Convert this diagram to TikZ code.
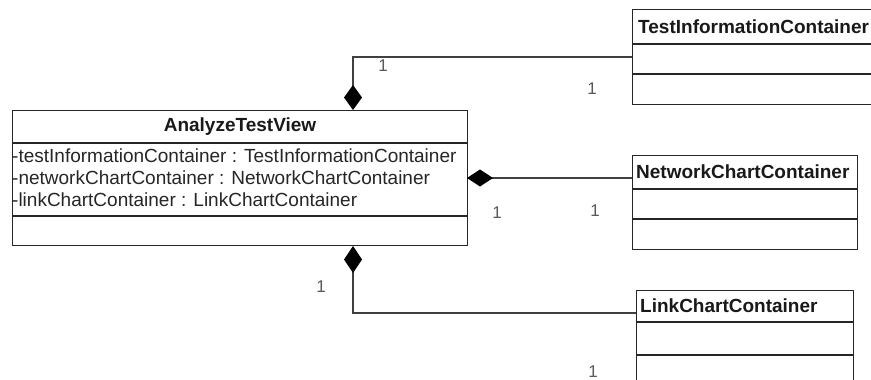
\documentclass[tikz,border=0pt]{standalone}
\usepackage{fontspec}
\setmainfont{Liberation Sans}
\usetikzlibrary{arrows.meta}
\begin{document}
\begin{tikzpicture}[x=1pt,y=-1pt,
  box/.style={draw=black!85, line width=1.4pt},
  sep/.style={draw=black!85, line width=1.4pt},
  conn/.style={draw=black!75, line width=1.2pt},
  hdr/.style={font=\fontsize{19}{22}\selectfont\bfseries, text=black!90, inner sep=0pt},
  attr/.style={font=\fontsize{19}{22}\selectfont, text=black!85, inner sep=0pt, anchor=west},
  lbl/.style={font=\fontsize{17}{20}\selectfont, text=black!65, inner sep=0pt},
]
\useasboundingbox (0,0) rectangle (871,380);
\clip (0,0) rectangle (871,380);
\fill[white] (0,0) rectangle (871,380);

% AnalyzeTestView
\node[box, anchor=north west, minimum width=455pt, minimum height=135pt, inner sep=0pt] (atv) at (12,110) {};
\draw[sep] (12,143) -- (467,143);
\draw[sep] (12,216) -- (467,216);
\node[hdr] (atvh) at (240,127) {AnalyzeTestView};
\node[attr] (a1) at (12,156) {-testInformationContainer : TestInformationContainer};
\node[attr] (a2) at (12,178) {-networkChartContainer : NetworkChartContainer};
\node[attr] (a3) at (12,200) {-linkChartContainer : LinkChartContainer};

% TestInformationContainer
\node[box, anchor=north west, minimum width=300pt, minimum height=95pt, inner sep=0pt] (tic) at (632,9) {};
\draw[sep] (632,44) -- (932,44);
\draw[sep] (632,74) -- (932,74);
\node[hdr, anchor=west] (tich) at (638,27) {TestInformationContainer};

% NetworkChartContainer
\node[box, anchor=north west, minimum width=225pt, minimum height=94pt, inner sep=0pt] (ncc) at (632,155) {};
\draw[sep] (632,189) -- (857,189);
\draw[sep] (632,219) -- (857,219);
\node[hdr, anchor=west] (ncch) at (636,172) {NetworkChartContainer};

% LinkChartContainer
\node[box, anchor=north west, minimum width=217pt, minimum height=120pt, inner sep=0pt] (lcc) at (636,290) {};
\draw[sep] (636,322) -- (853,322);
\draw[sep] (636,355) -- (853,355);
\node[hdr, anchor=west] (lcch) at (640,306) {LinkChartContainer};

% connector end points
\coordinate (p1) at (353,110);
\coordinate (q1) at (632,57);
\coordinate (p2) at (467,178);
\coordinate (q2) at (632,178);
\coordinate (p3) at (353,246);
\coordinate (q3) at (636,313);

\draw[conn, {Diamond[length=25pt,width=18pt,color=black,fill=black]}-] (p1) |- (q1);
\draw[conn, {Diamond[length=26pt,width=17pt,color=black,fill=black]}-] (p2) -- (q2);
\draw[conn, {Diamond[length=27pt,width=18pt,color=black,fill=black]}-] (p3) |- (q3);

% multiplicities
\node[lbl] (m1) at (383,66) {1};
\node[lbl] (m2) at (592,89) {1};
\node[lbl] (m3) at (497,213) {1};
\node[lbl] (m4) at (595,211) {1};
\node[lbl] (m5) at (321,287) {1};
\node[lbl] (m6) at (593,372) {1};
\end{tikzpicture}
\end{document}
